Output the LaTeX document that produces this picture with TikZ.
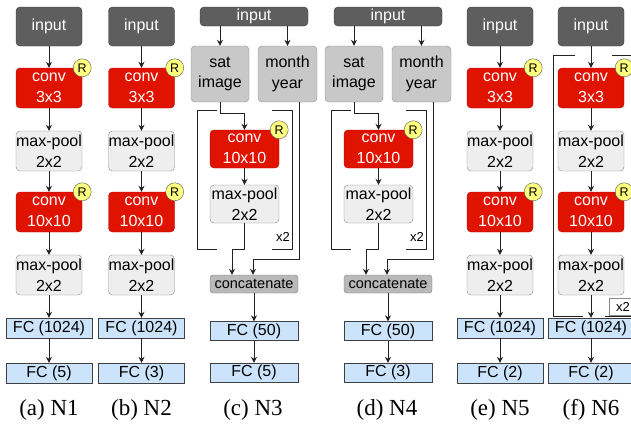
\documentclass[tikz,border=0pt]{standalone}
\usepackage{fontspec}
\setmainfont{Liberation Sans}
\newfontfamily\capfont{Liberation Serif}
\usetikzlibrary{arrows.meta}
\definecolor{inputc}{HTML}{5E5E5E}
\definecolor{inputb}{HTML}{383838}
\definecolor{convc}{HTML}{E01200}
\definecolor{convb}{HTML}{B00A00}
\definecolor{poolc}{HTML}{EEEEEE}
\definecolor{poolb}{HTML}{8A8A8A}
\definecolor{fcc}{HTML}{CCE4FB}
\definecolor{fcb}{HTML}{404040}
\definecolor{satc}{HTML}{C8C8C8}
\definecolor{satb}{HTML}{8C8C8C}
\definecolor{catc}{HTML}{B9B9B9}
\definecolor{catb}{HTML}{7C7C7C}
\definecolor{ryel}{HTML}{FFFF80}
\definecolor{rbord}{HTML}{555555}
\definecolor{arrc}{HTML}{222222}
\tikzset{
 box/.style={rounded corners=4pt, minimum width=66pt, minimum height=40pt, inner sep=0pt, align=center, font=\fontsize{16}{20.5}\selectfont},
 inbox/.style={box, fill=inputc, draw=inputb, text=white, minimum height=39pt},
 convbox/.style={box, fill=convc, draw=convb, text=white},
 poolbox/.style={box, fill=poolc, draw=poolb},
 fcbox/.style={draw=fcb, fill=fcc, minimum width=86pt, minimum height=20pt, inner sep=0pt, font=\fontsize{16}{18}\selectfont},
 satbox/.style={box, fill=satc, draw=satb, minimum width=58pt, minimum height=56pt},
 catbox/.style={rounded corners=3pt, fill=catc, draw=catb, minimum width=88pt, minimum height=18pt, inner sep=0pt, font=\fontsize{14.5}{16}\selectfont},
 rmark/.style={circle, fill=ryel, draw=rbord, minimum size=18pt, inner sep=0pt, font=\fontsize{12.5}{12.5}\selectfont},
 arr/.style={-{Stealth[length=6pt,width=6pt]}, line width=0.9pt, draw=arrc},
 brk/.style={line width=0.9pt, draw=arrc},
 captxt/.style={font=\capfont\fontsize{23}{23}\selectfont},
 rep/.style={font=\fontsize{13}{13}\selectfont, inner sep=1pt}
}
\newcommand\plaincol[5]{%
 \node[inbox] (#1in) at (#2,26.5) {input};
 \node[convbox] (#1c1) at (#2,88) {conv\\3x3};
 \node[poolbox] (#1p1) at (#2,151) {max-pool\\2x2};
 \node[convbox] (#1c2) at (#2,212) {conv\\10x10};
 \node[poolbox] (#1p2) at (#2,275) {max-pool\\2x2};
 \node[fcbox] (#1f1) at (#2,328) {#3};
 \node[fcbox] (#1f2) at (#2,373) {#4};
 \node[rmark] (#1r1) at (#1c1.north east) {R};
 \node[rmark] (#1r2) at (#1c2.north east) {R};
 \draw[arr] (#1in) -- (#1c1);
 \draw[arr] (#1c1) -- (#1p1);
 \draw[arr] (#1p1) -- (#1c2);
 \draw[arr] (#1c2) -- (#1p2);
 \draw[arr] (#1p2) -- (#1f1);
 \draw[arr] (#1f1) -- (#1f2);
 \node[captxt] (#1cap) at (#2,410) {#5};
}
\newcommand\mergecol[4]{%
 \begin{scope}[xshift=#2pt]
 \node[inbox, minimum width=108pt, minimum height=19pt] (#1in) at (254,16.5) {input};
 \node[satbox] (#1sat) at (220,74) {sat\\image};
 \node[satbox, minimum width=59pt] (#1mon) at (287.5,74) {month\\year};
 \node[convbox, minimum width=69pt, minimum height=38pt] (#1cv) at (244.5,149) {conv\\10x10};
 \node[poolbox, minimum width=69pt, minimum height=38pt] (#1pl) at (244.5,204) {max-pool\\2x2};
 \node[rmark] (#1r) at (#1cv.north east) {R};
 \node[catbox] (#1cat) at (254,284) {concatenate};
 \node[fcbox, minimum width=88pt, minimum height=19pt] (#1f1) at (254,331) {FC (50)};
 \node[fcbox, minimum width=88pt, minimum height=19pt] (#1f2) at (254,372.5) {#3};
 \draw[arr] (#1sat.north |- #1in.south) -- (#1sat.north);
 \draw[arr] (#1mon.north |- #1in.south) -- (#1mon.north);
 \draw[arr] (#1sat.south) -- ++(0,11) -| (#1cv.north);
 \draw[arr] (#1cv) -- (#1pl);
 \draw[arr] (#1pl.south) -- ++(0,26) -| ([xshift=-22pt]#1cat.north);
 \draw[arr] ([xshift=11.5pt]#1mon.south) -- ++(0,157) -| ([xshift=-1pt]#1cat.north);
 \draw[arr] (#1cat) -- (#1f1);
 \draw[arr] (#1f1) -- (#1f2);
 \draw[brk] (217,110) -- (197,110) -- (197,249) -- (217,249);
 \draw[brk] (272,110) -- (292,110) -- (292,249) -- (272,249);
 \node[rep] (#1x2) at (283,237) {x2};
 \node[captxt] (#1cap) at (253,410) {#4};
 \end{scope}
}
\begin{document}
\begin{tikzpicture}[x=1pt,y=-1pt]
\useasboundingbox (0,0) rectangle (631,426);
\clip (0,0) rectangle (631,426);
\plaincol{a}{49}{FC (1024)}{FC (5)}{(a) N1}
\plaincol{b}{141.5}{FC (1024)}{FC (3)}{(b) N2}
\mergecol{c}{0}{FC (5)}{(c) N3}
\mergecol{d}{134}{FC (3)}{(d) N4}
\plaincol{e}{500}{FC (1024)}{FC (2)}{(e) N5}
\draw[brk] (575,55) -- (553,55) -- (553,316) -- (583,316);
\draw[brk] (612,55) -- (645,55) -- (645,316) -- (605,316);
\plaincol{f}{591}{FC (1024)}{FC (2)}{(f) N6}
\node[rep, fill=white, draw=poolb, line width=0.4pt, minimum width=28pt, minimum height=17pt, inner sep=0pt] (fx2) at (623,306.5) {x2};
\end{tikzpicture}
\end{document}
